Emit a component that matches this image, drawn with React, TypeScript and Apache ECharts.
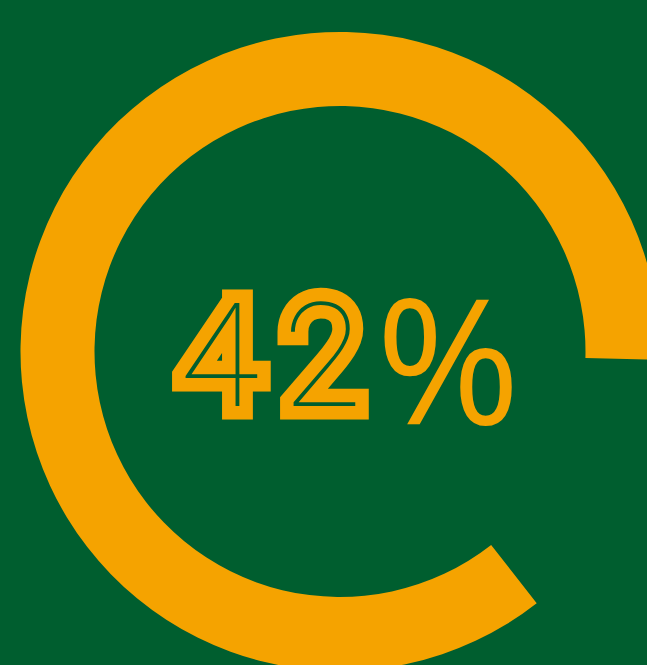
import React, { useEffect, useRef } from "react";
import * as echarts from "echarts";

const percentValue = [42];
const unitLabel = ["%"];

const BG = "#005e2f";
const ORANGE = "#f5a300";

export default function App() {
  const ref = useRef<HTMLDivElement>(null);
  useEffect(() => {
    if (!ref.current) return;
    const chart = echarts.init(ref.current, undefined, { renderer: "svg" });
    chart.setOption({
      animation: false,
      backgroundColor: BG,
      series: [
        {
          type: "gauge",
          center: [340, 351.5],
          radius: 319.5,
          startAngle: 308,
          endAngle: -1.5,
          min: 0,
          max: 100,
          pointer: { show: false },
          progress: { show: false },
          axisLine: { lineStyle: { width: 74, color: [[1, ORANGE]] } },
          axisTick: { show: false },
          splitLine: { show: false },
          axisLabel: { show: false },
          title: { show: false },
          detail: {
            offsetCenter: [5, 4],
            valueAnimation: false,
            formatter: (v: number) =>
              String(v)
                .split("")
                .map((c) => `{d|${c}}`)
                .join("") + `{p|${unitLabel[0]}}`,
            rich: {
              d: {
                fontFamily: "Roboto",
                fontSize: 145,
                fontWeight: 100,
                color: BG,
                textBorderColor: ORANGE,
                textBorderWidth: 27,
                width: 103,
                align: "center",
                lineHeight: 200,
                verticalAlign: "middle",
              },
              p: {
                fontFamily: "Open Sans",
                fontSize: 175,
                fontWeight: 400,
                color: ORANGE,
                width: 148,
                align: "center",
                lineHeight: 200,
                verticalAlign: "middle",
              },
            },
          },
          data: [{ value: percentValue[0] }],
        },
      ],
    });
    return () => chart.dispose();
  }, []);
  return <div ref={ref} style={{ width: 647, height: 665, position: "absolute", left: 0, top: 0 }} />;
}
